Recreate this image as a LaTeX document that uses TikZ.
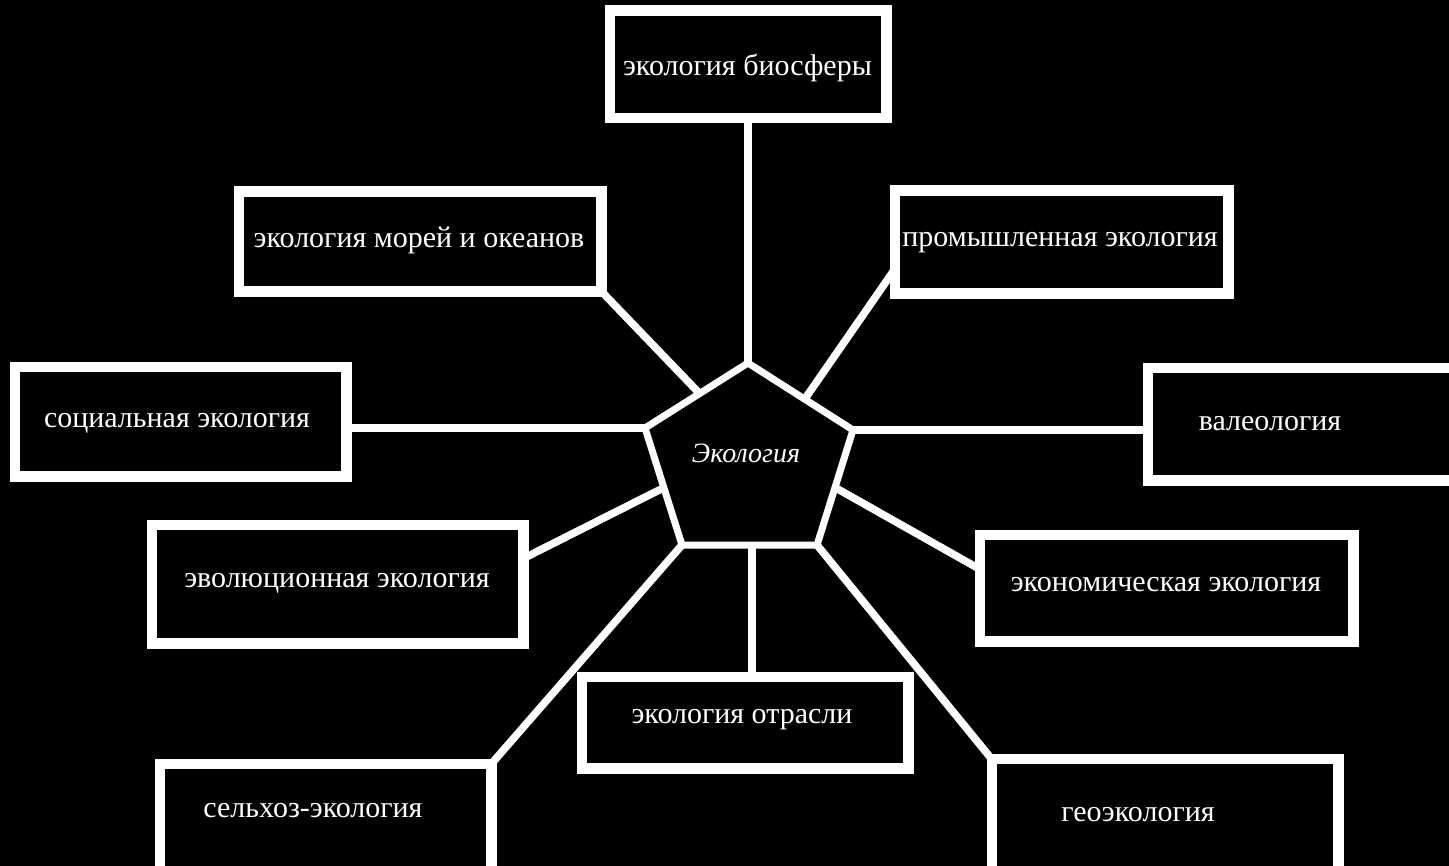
\documentclass[tikz,border=0pt]{standalone}
\usepackage{fontspec}
\setmainfont{Liberation Serif}
\usetikzlibrary{calc}
\begin{document}
\begin{tikzpicture}[x=0.5pt,y=-0.5pt,
  boxnode/.style={draw=white,fill=black,line width=3.5pt,rectangle,inner sep=0pt},
  txt/.style={text=white,inner sep=0pt,font=\fontsize{15}{18}\selectfont},
  link/.style={draw=white,line width=3.8pt},
  pent/.style={draw=white,fill=black,line width=3.5pt,line join=round}]
\fill[black] (0,0) rectangle (1449,866);
\clip (0,0) rectangle (1449,866);
% pentagon vertices
\coordinate (v1) at (748,363);
\coordinate (v2) at (853,430);
\coordinate (v3) at (817,545);
\coordinate (v4) at (682,545);
\coordinate (v5) at (645,428);
\coordinate (p2) at ($(v5)!0.53!(v1)$);
\coordinate (p3) at ($(v1)!0.54!(v2)$);
\coordinate (p6) at ($(v5)!0.51!(v4)$);
\coordinate (p7) at ($(v2)!0.5!(v3)$);
\coordinate (p8) at ($(v4)!0.52!(v3)$);
% boxes
\node[boxnode,minimum width=136.5pt,minimum height=52pt] (b1) at (748,64.5) {};
\node[boxnode,minimum width=179.5pt,minimum height=48pt] (b2) at (420,241.5) {};
\node[boxnode,minimum width=165pt,minimum height=49.5pt] (b3) at (1061.5,242) {};
\node[boxnode,minimum width=164pt,minimum height=53pt] (b4) at (180.5,421.5) {};
\node[boxnode,minimum width=153.5pt,minimum height=54.5pt] (b5) at (1303,424) {};
\node[boxnode,minimum width=184pt,minimum height=57.5pt] (b6) at (337.5,584) {};
\node[boxnode,minimum width=185pt,minimum height=51.5pt] (b7) at (1166.5,588) {};
\node[boxnode,minimum width=161.5pt,minimum height=44pt] (b8) at (745,722.5) {};
\node[boxnode,minimum width=164pt,minimum height=60.5pt] (b9) at (325.5,826) {};
\node[boxnode,minimum width=171.5pt,minimum height=63pt] (b10) at (1165,823.5) {};
% connectors
\draw[link] (v1) -- (v1 |- b1.south);
\draw[link] (p2) -- (b2.south east);
\draw[link] (p3) -- (b3.190);
\draw[link] (v5) -- (v5 -| b4.east);
\draw[link] (v2) -- (v2 -| b5.west);
\draw[link] (p6) -- (b6.8);
\draw[link] (p7) -- (b7.174);
\draw[link] (p8) -- (p8 |- b8.north);
\draw[link] (v4) -- (b9.north east);
\draw[link] (v3) -- (b10.north west);
% redraw box borders on top of connector ends
\foreach \b in {b1,b2,b3,b4,b5,b6,b7,b8,b9,b10}
  \draw[white,line width=3.5pt] (\b.south west) rectangle (\b.north east);
% pentagon
\path[pent] (v1) -- (v2) -- (v3) -- (v4) -- (v5) -- cycle;
% texts
\node[txt] (t1) at (747.5,68) {экология биосферы};
\node[txt] (t2) at (419,240) {экология морей и океанов};
\node[txt] (t3) at (1060,243) {промышленная экология};
\node[txt] (t4) at (177,423) {социальная экология};
\node[txt] (t5) at (1270,424) {валеология};
\node[txt] (t6) at (337,583) {эволюционная экология};
\node[txt] (t7) at (1166,585) {экономическая экология};
\node[txt] (t8) at (742,720) {экология отрасли};
\node[txt] (t9) at (313,811) {сельхоз-экология};
\node[txt] (t10) at (1138,815) {геоэкология};
\node[txt,font=\fontsize{14}{17}\selectfont\itshape] (t0) at (746,453) {Экология};
\end{tikzpicture}
\end{document}
